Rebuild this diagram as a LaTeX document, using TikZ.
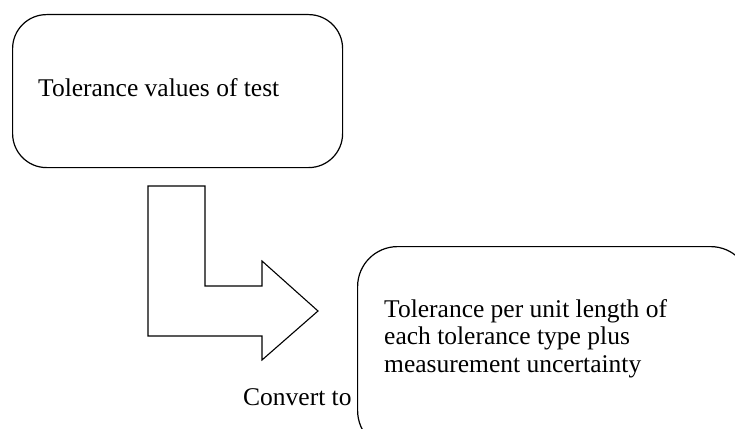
\documentclass[tikz,border=0pt]{standalone}
\usepackage{fontspec}
\setmainfont{Liberation Serif}
\begin{document}
\begin{tikzpicture}[x=1pt,y=-1pt,
  boxstyle/.style={draw=black, line width=1.2pt, rounded corners=34pt, inner sep=0pt},
  lbl/.style={anchor=base west, inner sep=0pt, font=\fontsize{25.5}{27.8}\selectfont, align=left},
  arrowshape/.style={draw=black, line width=1.1pt, line join=miter}]
\useasboundingbox (0,0) rectangle (735,428);
% boxes
\node[boxstyle, minimum width=330pt, minimum height=153pt, anchor=north west] (box1) at (12,14) {};
\node[boxstyle, rounded corners=40pt, minimum width=393pt, minimum height=204pt, anchor=north west] (box2) at (357,246) {};
% texts
\node[lbl] (t1) at (38,96.5) {Tolerance values of test};
\node[lbl, anchor=north west, text depth=0pt] (t2) at (384,299) {Tolerance per unit length of\\each tolerance type plus\\measurement uncertainty};
\node[lbl] (t3) at (243,405) {Convert to};
% bent block arrow
\draw[arrowshape] (148,186) -- (205,186) -- (205,286) -- (262,286) -- (262,261)
  -- (318,311) -- (262,360) -- (262,336) -- (148,336) -- cycle;
\end{tikzpicture}
\end{document}
